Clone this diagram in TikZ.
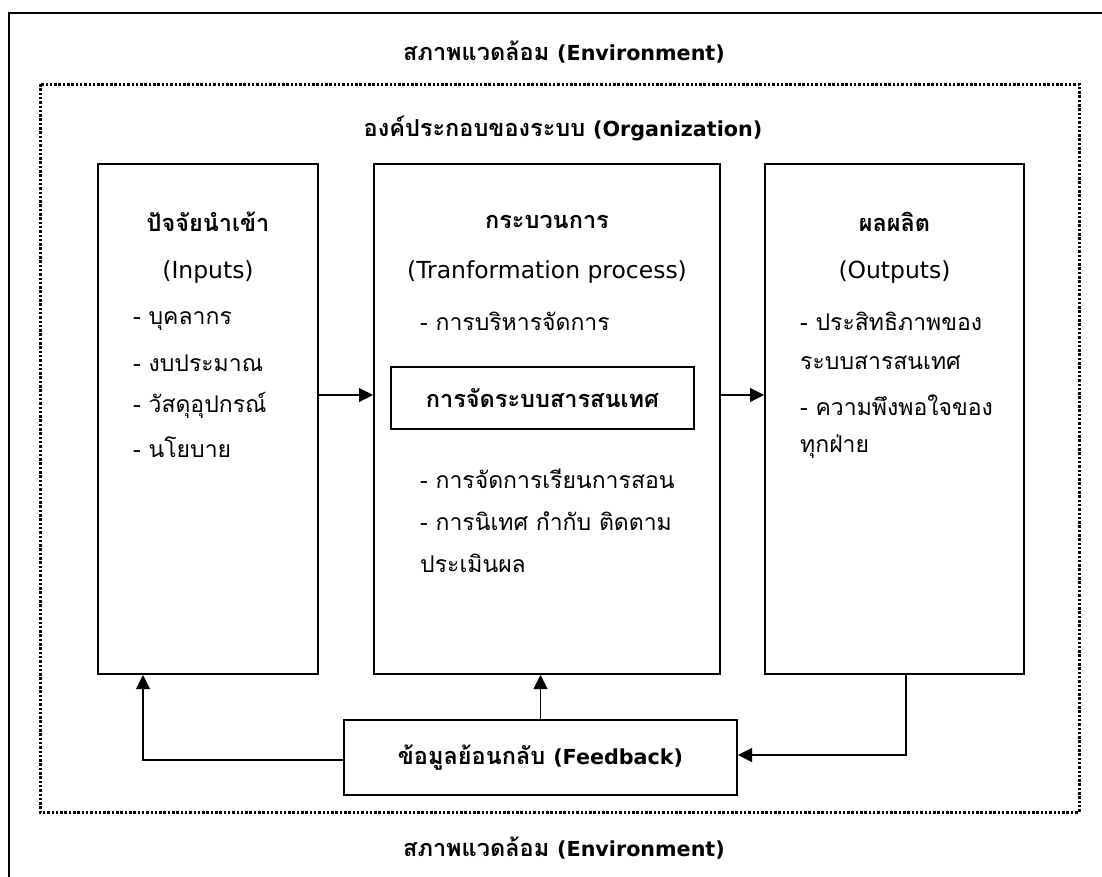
\documentclass[tikz,border=0pt]{standalone}
\usepackage{fontspec}
\setmainfont[Script=Thai]{Loma}
\newfontfamily\enr[Scale=1.02]{DejaVu Sans}
\newfontfamily\enb[Scale=0.88]{DejaVu Sans}
\usetikzlibrary{arrows.meta,calc}
\begin{document}
\begin{tikzpicture}[x=1pt,y=-1pt,
  box/.style={draw, line width=2pt, rectangle, inner sep=0pt},
  lbl/.style={font=\fontsize{23}{27}\selectfont, inner sep=0pt},
  blbl/.style={font=\fontsize{23.5}{27}\selectfont\bfseries, inner sep=0pt},
  item/.style={lbl, anchor=west},
  conn/.style={line width=1.1pt},
  arr/.style={conn, -{Triangle[length=14pt,width=14pt]}}]
\useasboundingbox (0,0) rectangle (1102,876);
% outer frame (cut by the page on right and bottom)
\draw[line width=2.5pt] (9,880) -- (9,13) -- (1106,13);
% dotted organization frame
\draw[line width=3pt, dash pattern=on 2.5pt off 1.8pt] (40,84) rectangle (1079,812);
\node[blbl] (envtop) at (564,52) {สภาพแวดล้อม {\enb\bfseries (Environment)}};
\node[blbl] (envbot) at (564,848) {สภาพแวดล้อม {\enb\bfseries (Environment)}};
\node[blbl] (org) at (563,128) {องค์ประกอบของระบบ {\enb\bfseries (Organization)}};
% main boxes
\node[box, minimum width=220pt, minimum height=510pt] (in) at (208,419) {};
\node[box, minimum width=346pt, minimum height=510pt] (mid) at (547,419) {};
\node[box, minimum width=259pt, minimum height=510pt] (out) at (894.5,419) {};
\node[box, line width=1.3pt, minimum width=303pt, minimum height=62pt] (info) at (542.5,398) {};
\node[box, minimum width=393pt, minimum height=75pt] (fb) at (540.5,757.5) {};
% inputs
\node[blbl] (inT) at (208,222) {ปัจจัยนำเข้า};
\node[lbl] (inE) at (208,272) {\enr (Inputs)};
\node[item] (in1) at (133,321) {- บุคลากร};
\node[item] (in2) at (133,363) {- งบประมาณ};
\node[item] (in3) at (133,405) {- วัสดุอุปกรณ์};
\node[item] (in4) at (133,447) {- นโยบาย};
% process
\node[blbl] (midT) at (547,222) {กระบวนการ};
\node[lbl] (midE) at (547,272) {\enr (Tranformation process)};
\node[item] (mid1) at (420,321) {- การบริหารจัดการ};
\node[blbl] (infoT) at (info) {การจัดระบบสารสนเทศ};
\node[item] (mid2) at (420,479) {- การจัดการเรียนการสอน};
\node[item] (mid3) at (420,521) {- การนิเทศ กำกับ ติดตาม};
\node[item] (mid4) at (420,563) {ประเมินผล};
% outputs
\node[blbl] (outT) at (894.5,222) {ผลผลิต};
\node[lbl] (outE) at (894.5,272) {\enr (Outputs)};
\node[item] (out1) at (800,321) {- ประสิทธิภาพของ};
\node[item] (out2) at (800,363) {ระบบสารสนเทศ};
\node[item] (out3) at (800,405) {- ความพึงพอใจของ};
\node[item] (out4) at (800,447) {ทุกฝ่าย};
% feedback
\node[blbl] (fbT) at (fb) {ข้อมูลย้อนกลับ {\enb\bfseries (Feedback)}};
% connectors
\draw[arr] ([yshift=24pt]in.east) -- ([yshift=24pt]mid.west);
\draw[arr] ([yshift=24pt]mid.east) -- ([yshift=24pt]out.west);
\draw[arr] ([yshift=-2.5pt]fb.west) -| ([xshift=-65pt]in.south);
\draw[arr] (fb.north) -- (fb.north |- mid.south);
\draw[arr] ([xshift=11.5pt]out.south) |- ([yshift=2.5pt]fb.east);
\end{tikzpicture}
\end{document}
